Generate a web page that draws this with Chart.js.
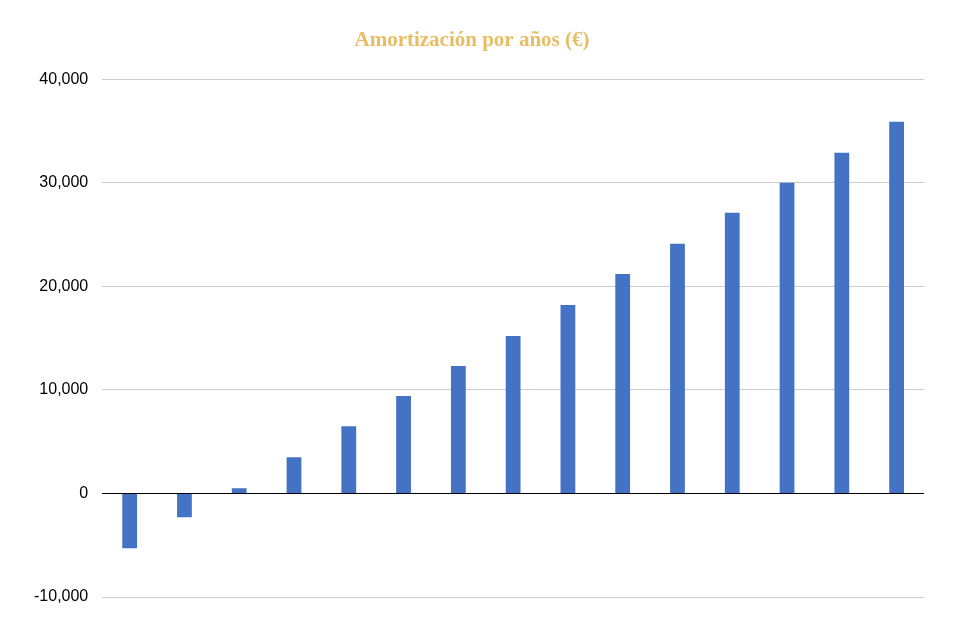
<!DOCTYPE html>
<html><head><meta charset="utf-8">
<script src="https://cdn.jsdelivr.net/npm/chart.js@4/dist/chart.umd.min.js"></script>
<style>html,body{margin:0;padding:0;background:#fff}#w{width:954px;height:635px}</style>
</head><body><div id="w"><canvas id="c"></canvas></div>
<script>
const categories = ["1","2","3","4","5","6","7","8","9","10","11","12","13","14","15"];
const amortizacion = [-5300,-2300,500,3500,6500,9400,12300,15200,18200,21200,24100,27100,30000,32900,35900];
const yTicks = [-10000,0,10000,20000,30000,40000];
new Chart(document.getElementById('c'), {
  type: 'bar',
  data: { labels: categories, datasets: [{ data: amortizacion, backgroundColor: '#4472C4', barPercentage: 0.27, categoryPercentage: 1 }] },
  options: {
    responsive: true, maintainAspectRatio: false, animation: false,
    layout: { padding: { left: 20, right: 30, top: 20, bottom: 30 } },
    plugins: {
      legend: { display: false }, tooltip: { enabled: false },
      title: { display: true, text: 'Amortización por años (€)', color: '#E8BE64',
        font: { family: 'Liberation Serif', size: 21, weight: 'bold' }, padding: { top: 8, bottom: 26 } }
    },
    scales: {
      x: { offset: true, grid: { display: false }, border: { display: false }, ticks: { display: false } },
      y: { min: -10000, max: 40000, afterBuildTicks: s => { s.ticks = yTicks.map(v => ({ value: v })); },
        border: { display: false },
        grid: { color: c => c.tick && c.tick.value === 0 ? '#000' : '#cccccc', tickLength: 16, drawTicks: false },
        ticks: { color: '#000', padding: 14, font: { family: 'Liberation Sans', size: 16 } } }
    }
  }
});
</script></body></html>
